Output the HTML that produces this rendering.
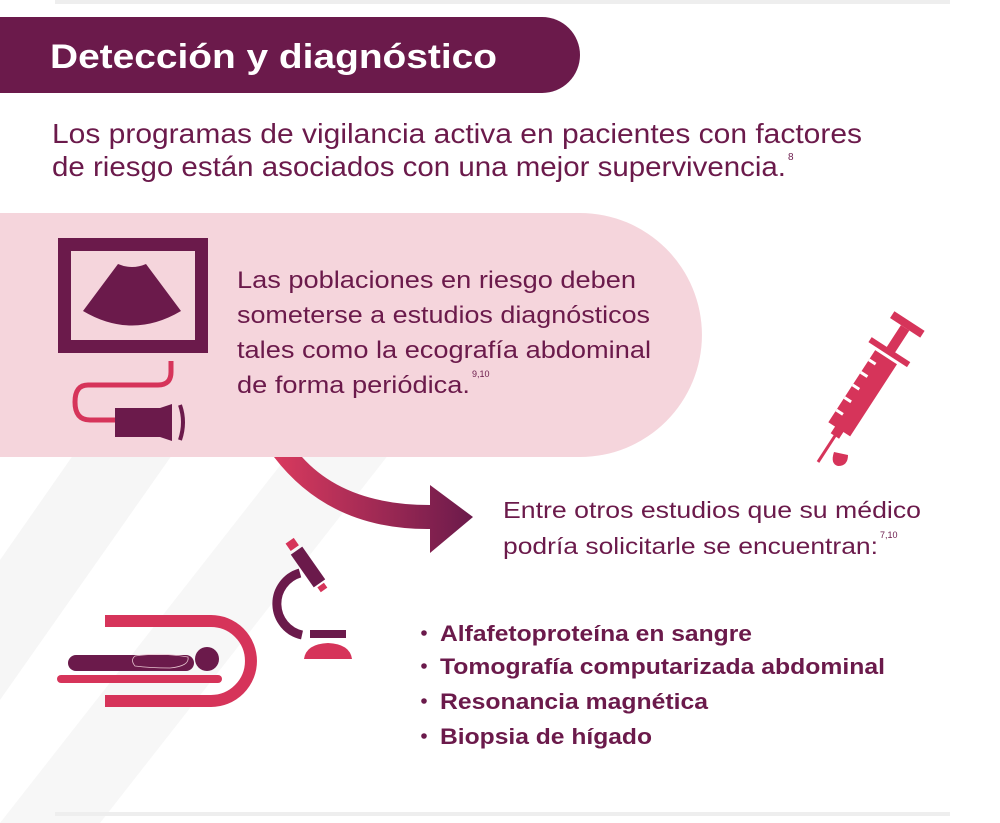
<!DOCTYPE html>
<html><head><meta charset="utf-8"><style>html,body{margin:0;padding:0;background:#fff}svg{display:block}</style></head>
<body>
<svg width="1000" height="823" viewBox="0 0 1000 823" xmlns="http://www.w3.org/2000/svg" font-family="Liberation Sans, sans-serif">
<defs>
<linearGradient id="ag" x1="0" y1="0" x2="1" y2="0">
<stop offset="0" stop-color="#d93a5e"/><stop offset="1" stop-color="#6b1a4b"/>
</linearGradient>
</defs>
<polygon points="0,560 230,230 330,230 0,700" fill="#f6f6f6"/>
<polygon points="0,823 100,823 400,440 300,440" fill="#f7f7f7"/>
<rect x="55" y="0" width="895" height="4" fill="#eeeeee"/>
<rect x="55" y="812" width="895" height="4" fill="#eeeeee"/>
<path d="M0,17 H542 A38,38 0 0 1 542,93 H0 Z" fill="#6b1a4b"/>
<text x="50" y="68" font-size="34" font-weight="bold" fill="#fff" textLength="447" lengthAdjust="spacingAndGlyphs">Detección y diagnóstico</text>
<g fill="#6b1a4b" font-size="28">
<text x="52" y="143" textLength="810" lengthAdjust="spacingAndGlyphs">Los programas de vigilancia activa en pacientes con factores</text>
<text x="52" y="176" textLength="734" lengthAdjust="spacingAndGlyphs">de riesgo están asociados con una mejor supervivencia.</text>
<text x="788" y="160" font-size="10">8</text>
</g>
<path d="M0,213 H580 A122,122 0 0 1 580,457 H0 Z" fill="#f5d5dc"/>
<rect x="64.5" y="244.5" width="137" height="102" fill="none" stroke="#6b1a4b" stroke-width="13"/>
<path d="M118,264 Q132,270 146,264 L181,311 Q132,340 83,311 Z" fill="#6b1a4b"/>
<path d="M171,361 V372 Q171,385 158,385 H88 Q75,385 75,402 Q75,420 90,420 H115" fill="none" stroke="#d6345a" stroke-width="5"/>
<path d="M115,408 H160 L172,404 V441 L160,437 H115 Z" fill="#6b1a4b"/>
<path d="M180,405 Q186,422 180,440" fill="none" stroke="#6b1a4b" stroke-width="4"/>
<g fill="#6b1a4b" font-size="24">
<text x="237" y="288" textLength="399" lengthAdjust="spacingAndGlyphs">Las poblaciones en riesgo deben</text>
<text x="237" y="323" textLength="413" lengthAdjust="spacingAndGlyphs">someterse a estudios diagnósticos</text>
<text x="237" y="358" textLength="414" lengthAdjust="spacingAndGlyphs">tales como la ecografía abdominal</text>
<text x="237" y="393" textLength="233" lengthAdjust="spacingAndGlyphs">de forma periódica.</text>
<text x="472" y="377" font-size="9">9,10</text>
</g>
<path d="M274,457 Q330,530 430,529 L430,553 L473,517 L430,485 L430,505 Q345,505 302,457 Z" fill="url(#ag)"/>
<g fill="#6b1a4b" font-size="23">
<text x="503" y="518" textLength="418" lengthAdjust="spacingAndGlyphs">Entre otros estudios que su médico</text>
<text x="503" y="554" textLength="375" lengthAdjust="spacingAndGlyphs">podría solicitarle se encuentran:</text>
<text x="880" y="538" font-size="9">7,10</text>
</g>
<g fill="#6b1a4b" font-size="22" font-weight="bold">
<circle cx="424" cy="633" r="2.8"/><circle cx="424" cy="666" r="2.8"/><circle cx="424" cy="701" r="2.8"/><circle cx="424" cy="736" r="2.8"/>
<text x="440" y="641" textLength="312" lengthAdjust="spacingAndGlyphs">Alfafetoproteína en sangre</text>
<text x="440" y="674" textLength="445" lengthAdjust="spacingAndGlyphs">Tomografía computarizada abdominal</text>
<text x="440" y="709" textLength="268" lengthAdjust="spacingAndGlyphs">Resonancia magnética</text>
<text x="440" y="744" textLength="212" lengthAdjust="spacingAndGlyphs">Biopsia de hígado</text>
</g>
<!-- scanner -->
<path d="M105,621 H211 A40,40 0 0 1 211,701 H105" fill="none" stroke="#d6345a" stroke-width="12"/>
<rect x="57" y="675" width="165" height="8" rx="4" fill="#d6345a"/>
<rect x="68" y="655" width="126" height="16" rx="8" fill="#6b1a4b"/>
<path d="M135,656 Q160,652 188,657 Q190,666 170,668 Q150,668 135,666 Q130,660 135,656 Z" fill="none" stroke="#e7c3cf" stroke-width="0.8"/>
<circle cx="207" cy="659" r="12" fill="#6b1a4b"/>
<!-- microscope -->
<path d="M300,573 A32,32 0 0 0 302,635" fill="none" stroke="#6b1a4b" stroke-width="9"/>
<g transform="translate(308,567) rotate(-35)">
<rect x="-7" y="-20" width="14" height="40" fill="#6b1a4b"/>
<rect x="-5" y="-32" width="10" height="9" fill="#d6345a"/>
<rect x="-4" y="22" width="8" height="6" fill="#d6345a"/>
</g>
<rect x="310" y="630" width="36" height="8" fill="#6b1a4b"/>
<path d="M304,659 Q306,644 328,643 Q350,644 352,659 Z" fill="#d6345a"/>
<!-- syringe -->
<g transform="translate(818,462) rotate(33)" fill="#d6345a">
<rect x="-1.5" y="-32" width="3" height="32"/>
<rect x="-5" y="-40" width="10" height="9"/>
<rect x="-13" y="-125" width="26" height="86"/>
<rect x="-23" y="-134" width="46" height="6"/>
<rect x="-5" y="-160" width="10" height="27"/>
<rect x="-18" y="-168" width="36" height="8"/>
<g fill="#fff"><rect x="-13" y="-55" width="8" height="3"/><rect x="-13" y="-70" width="8" height="3"/><rect x="-13" y="-85" width="8" height="3"/><rect x="-13" y="-100" width="8" height="3"/><rect x="-13" y="-115" width="8" height="3"/></g>
</g>
<path d="M834,452 L848,455 Q848,466 838,466 Q830,464 834,452 Z" fill="#d6345a"/>
</svg>
</body></html>
